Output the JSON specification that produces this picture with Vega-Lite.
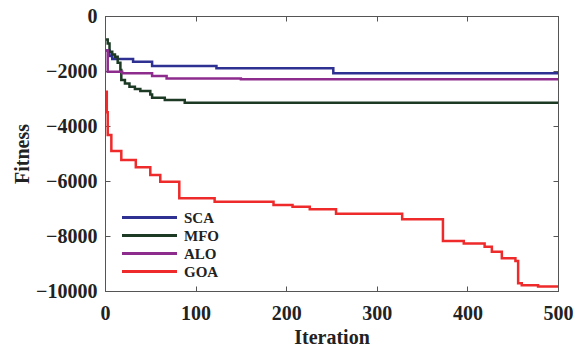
{
  "$schema": "https://vega.github.io/schema/vega-lite/v6.json",
  "width": 453,
  "height": 275,
  "autosize": "none",
  "padding": {"left": 105, "top": 16, "right": 20, "bottom": 57},
  "background": "white",
  "config": {
    "view": {"stroke": "#555555", "strokeWidth": 1},
    "font": "Liberation Serif",
    "axis": {
      "grid": false,
      "domainColor": "#555555",
      "tickColor": "#555555",
      "tickSize": -5,
      "format": "d",
      "labelFlush": false,
      "labelFont": "Liberation Serif",
      "labelFontWeight": "bold",
      "labelFontSize": 20,
      "labelColor": "#222222",
      "titleFont": "Liberation Serif",
      "titleFontWeight": "bold",
      "titleFontSize": 20,
      "titleColor": "#222222"
    },
    "legend": {
      "orient": "none",
      "legendX": 15,
      "legendY": 194,
      "padding": 0,
      "symbolType": "M-1,0H9",
      "symbolSize": 121,
      "symbolStrokeWidth": 3,
      "labelFont": "Liberation Serif",
      "labelFontWeight": "bold",
      "labelFontSize": 15,
      "labelColor": "#222222",
      "labelOffset": 49,
      "rowPadding": 2
    }
  },
  "data": {
    "values": [
      {"algo": "SCA", "iter": 1, "fitness": -1250},
      {"algo": "SCA", "iter": 5, "fitness": -1450},
      {"algo": "SCA", "iter": 8, "fitness": -1560},
      {"algo": "SCA", "iter": 31, "fitness": -1660},
      {"algo": "SCA", "iter": 52, "fitness": -1820},
      {"algo": "SCA", "iter": 123, "fitness": -1900},
      {"algo": "SCA", "iter": 252, "fitness": -2080},
      {"algo": "SCA", "iter": 500, "fitness": -2080},
      {"algo": "MFO", "iter": 1, "fitness": -850},
      {"algo": "MFO", "iter": 3, "fitness": -1000},
      {"algo": "MFO", "iter": 5, "fitness": -1300},
      {"algo": "MFO", "iter": 8, "fitness": -1400},
      {"algo": "MFO", "iter": 11, "fitness": -1480},
      {"algo": "MFO", "iter": 14, "fitness": -1700},
      {"algo": "MFO", "iter": 17, "fitness": -1960},
      {"algo": "MFO", "iter": 18, "fitness": -2330},
      {"algo": "MFO", "iter": 22, "fitness": -2450},
      {"algo": "MFO", "iter": 27, "fitness": -2570},
      {"algo": "MFO", "iter": 33, "fitness": -2650},
      {"algo": "MFO", "iter": 39, "fitness": -2730},
      {"algo": "MFO", "iter": 50, "fitness": -2850},
      {"algo": "MFO", "iter": 52, "fitness": -2970},
      {"algo": "MFO", "iter": 66, "fitness": -3050},
      {"algo": "MFO", "iter": 88, "fitness": -3150},
      {"algo": "MFO", "iter": 500, "fitness": -3150},
      {"algo": "ALO", "iter": 1, "fitness": -1250},
      {"algo": "ALO", "iter": 3, "fitness": -2025},
      {"algo": "ALO", "iter": 19, "fitness": -2085},
      {"algo": "ALO", "iter": 52, "fitness": -2180},
      {"algo": "ALO", "iter": 68, "fitness": -2270},
      {"algo": "ALO", "iter": 150, "fitness": -2300},
      {"algo": "ALO", "iter": 500, "fitness": -2300},
      {"algo": "GOA", "iter": 1, "fitness": -2750},
      {"algo": "GOA", "iter": 2, "fitness": -3500},
      {"algo": "GOA", "iter": 3, "fitness": -4330},
      {"algo": "GOA", "iter": 7, "fitness": -4910},
      {"algo": "GOA", "iter": 18, "fitness": -5240},
      {"algo": "GOA", "iter": 34, "fitness": -5500},
      {"algo": "GOA", "iter": 50, "fitness": -5780},
      {"algo": "GOA", "iter": 61, "fitness": -6025},
      {"algo": "GOA", "iter": 82, "fitness": -6630},
      {"algo": "GOA", "iter": 121, "fitness": -6750},
      {"algo": "GOA", "iter": 186, "fitness": -6870},
      {"algo": "GOA", "iter": 207, "fitness": -6935},
      {"algo": "GOA", "iter": 226, "fitness": -7030},
      {"algo": "GOA", "iter": 255, "fitness": -7190},
      {"algo": "GOA", "iter": 328, "fitness": -7390},
      {"algo": "GOA", "iter": 373, "fitness": -8180},
      {"algo": "GOA", "iter": 396, "fitness": -8270},
      {"algo": "GOA", "iter": 419, "fitness": -8390},
      {"algo": "GOA", "iter": 427, "fitness": -8570},
      {"algo": "GOA", "iter": 438, "fitness": -8810},
      {"algo": "GOA", "iter": 453, "fitness": -8910},
      {"algo": "GOA", "iter": 456, "fitness": -9720},
      {"algo": "GOA", "iter": 460, "fitness": -9790},
      {"algo": "GOA", "iter": 478, "fitness": -9840},
      {"algo": "GOA", "iter": 500, "fitness": -9840}
    ]
  },
  "layer": [
    {
      "mark": {"type": "line", "interpolate": "step-after", "strokeWidth": 2.5},
      "encoding": {
        "x": {
          "field": "iter", "type": "quantitative",
          "scale": {"domain": [0, 500], "nice": false},
          "axis": {"orient": "bottom", "title": "Iteration", "values": [0, 100, 200, 300, 400, 500], "labelPadding": 17, "titlePadding": 4}
        },
        "y": {
          "field": "fitness", "type": "quantitative",
          "scale": {"domain": [-10000, 0], "nice": false, "zero": false},
          "axis": {"orient": "left", "title": "Fitness", "values": [0, -2000, -4000, -6000, -8000, -10000], "labelPadding": 13, "titlePadding": 3}
        },
        "color": {
          "field": "algo", "type": "nominal",
          "scale": {"domain": ["SCA", "MFO", "ALO", "GOA"], "range": ["#2E3192", "#1C3A24", "#8E2C8E", "#EE2A2A"]},
          "legend": {"title": null}
        }
      }
    },
    {
      "mark": {"type": "line", "interpolate": "step-after", "strokeOpacity": 0},
      "encoding": {
        "x": {
          "field": "iter", "type": "quantitative",
          "scale": {"domain": [0, 500], "nice": false},
          "axis": {"orient": "top", "title": null, "labels": false, "values": [0, 100, 200, 300, 400, 500]}
        },
        "y": {
          "field": "fitness", "type": "quantitative",
          "scale": {"domain": [-10000, 0], "nice": false, "zero": false},
          "axis": {"orient": "right", "title": null, "labels": false, "values": [0, -2000, -4000, -6000, -8000, -10000]}
        },
        "detail": {"field": "algo", "type": "nominal"}
      }
    }
  ],
  "resolve": {"axis": {"x": "independent", "y": "independent"}}
}
